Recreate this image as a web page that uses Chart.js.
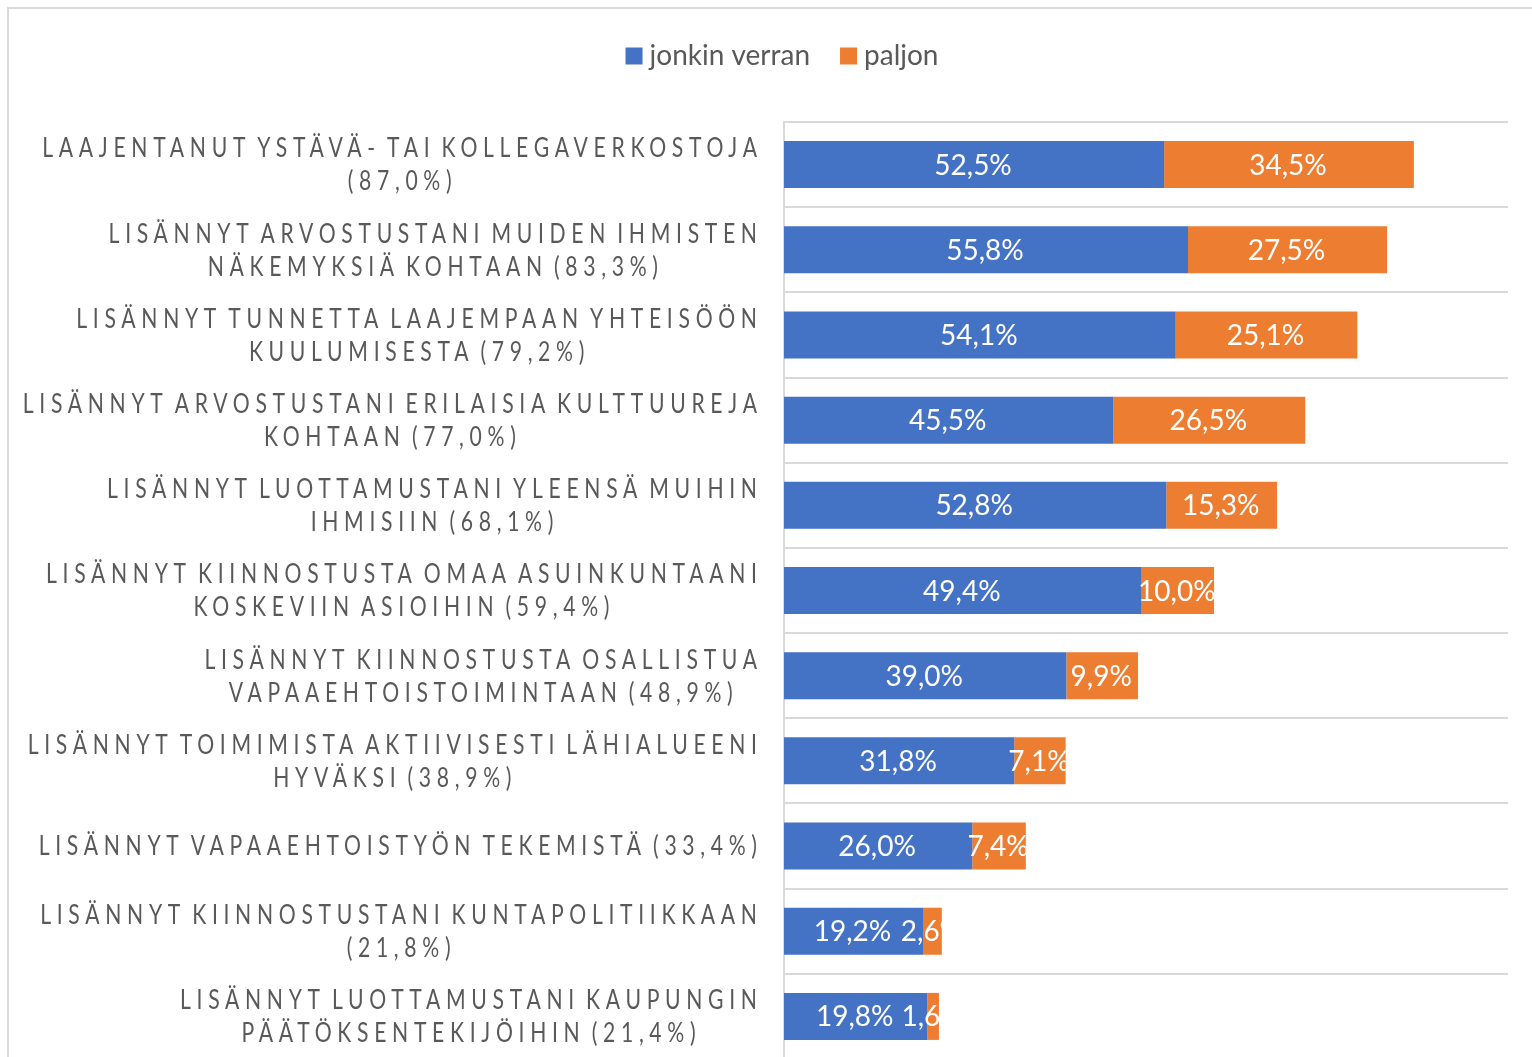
<!DOCTYPE html>
<html><head><meta charset="utf-8">
<script src="https://cdn.jsdelivr.net/npm/chart.js@4.4.0/dist/chart.umd.min.js"></script>
<style>html,body{margin:0;padding:0;background:#fff;overflow:hidden}#wrap{position:relative;width:1532px;height:1066px}</style>
</head><body><div id="wrap"><canvas id="c"></canvas></div>
<script>
const categories = [
 ["LAAJENTANUT YSTÄVÄ- TAI KOLLEGAVERKOSTOJA", "(87,0%)"],
 ["LISÄNNYT ARVOSTUSTANI MUIDEN IHMISTEN", "NÄKEMYKSIÄ KOHTAAN (83,3%)"],
 ["LISÄNNYT TUNNETTA LAAJEMPAAN YHTEISÖÖN", "KUULUMISESTA (79,2%)"],
 ["LISÄNNYT ARVOSTUSTANI ERILAISIA KULTTUUREJA", "KOHTAAN (77,0%)"],
 ["LISÄNNYT LUOTTAMUSTANI YLEENSÄ MUIHIN", "IHMISIIN (68,1%)"],
 ["LISÄNNYT KIINNOSTUSTA OMAA ASUINKUNTAANI", "KOSKEVIIN ASIOIHIN (59,4%)"],
 ["LISÄNNYT KIINNOSTUSTA OSALLISTUA", "VAPAAEHTOISTOIMINTAAN (48,9%)"],
 ["LISÄNNYT TOIMIMISTA AKTIIVISESTI LÄHIALUEENI", "HYVÄKSI (38,9%)"],
 ["LISÄNNYT VAPAAEHTOISTYÖN TEKEMISTÄ (33,4%)"],
 ["LISÄNNYT KIINNOSTUSTANI KUNTAPOLITIIKKAAN", "(21,8%)"],
 ["LISÄNNYT LUOTTAMUSTANI KAUPUNGIN", "PÄÄTÖKSENTEKIJÖIHIN (21,4%)"]
];
const seriesNames = ["jonkin verran", "paljon"];
const jonkinVerran = [52.5, 55.8, 54.1, 45.5, 52.8, 49.4, 39.0, 31.8, 26.0, 19.2, 19.8];
const paljon = [34.5, 27.5, 25.1, 26.5, 15.3, 10.0, 9.9, 7.1, 7.4, 2.6, 1.6];
const xMin = 0, xMax = 100;
const seriesColors = ['#4472C4', '#ED7D31'];

function fmt(v){ return v.toFixed(1).replace('.', ',') + '%'; }

const TEXT_GRAY = '#595959';
const CAT_FONT = '26px Lato';
const CAT_LS = 7;
const CAT_WS = -6;
const CAT_SX = 0.813;
const CAT_RIGHT = 757;
const CAT_LINE_H = 33;

const framePlugin = {
  id: 'frame',
  beforeDraw(chart){
    const c = chart.ctx; c.save();
    c.fillStyle = '#fff'; c.fillRect(0, 0, chart.width, chart.height);
    c.strokeStyle = '#d9d9d9'; c.lineWidth = 2;
    c.beginPath(); c.moveTo(8, chart.height + 5); c.lineTo(8, 8); c.lineTo(chart.width + 5, 8); c.stroke();
    c.restore();
  }
};

const legendPlugin = {
  id: 'customLegend',
  afterDraw(chart){
    const c = chart.ctx; c.save();
    c.font = '28px Lato'; c.textBaseline = 'middle';
    const box = 17, gapBT = 7, gapItems = 30;
    const items = chart.data.datasets.map(d => ({label: d.label, color: d.backgroundColor, w: c.measureText(d.label).width}));
    let total = 0;
    items.forEach((it, i) => { total += box + gapBT + it.w + (i < items.length - 1 ? gapItems : 0); });
    let x = 782 - total / 2;
    const cy = 56;
    items.forEach(it => {
      c.fillStyle = it.color; c.fillRect(x, cy - box / 2, box, box);
      x += box + gapBT;
      c.fillStyle = TEXT_GRAY; c.fillText(it.label, x, cy);
      x += it.w + gapItems;
    });
    c.restore();
  }
};

const catLabelPlugin = {
  id: 'catLabels',
  afterDraw(chart){
    const c = chart.ctx; const ys = chart.scales.y;
    c.save();
    c.font = CAT_FONT; c.fillStyle = TEXT_GRAY; c.textBaseline = 'middle'; c.textAlign = 'center';
    try { c.letterSpacing = CAT_LS + 'px'; c.wordSpacing = CAT_WS + 'px'; } catch(e) {}
    chart.data.labels.forEach((lab, i) => {
      const lines = Array.isArray(lab) ? lab : [lab];
      const widths = lines.map(l => (c.measureText(l).width - CAT_LS) * CAT_SX);
      const bw = Math.max(...widths);
      const cx = CAT_RIGHT - bw / 2;
      const yc = ys.getPixelForTick(i) + 1;
      const y0 = yc - (lines.length - 1) * CAT_LINE_H / 2;
      lines.forEach((l, k) => {
        c.save();
        c.translate(cx, y0 + k * CAT_LINE_H);
        c.scale(CAT_SX, 1);
        c.fillText(l, CAT_LS / 2, 0);
        c.restore();
      });
    });
    c.restore();
  }
};

const dataLabelPlugin = {
  id: 'barLabels',
  afterDatasetsDraw(chart){
    const c = chart.ctx; c.save();
    c.font = '28px Lato'; c.fillStyle = '#ffffff'; c.textAlign = 'center'; c.textBaseline = 'middle';
    chart.data.datasets.forEach((ds, di) => {
      const meta = chart.getDatasetMeta(di);
      meta.data.forEach((el, i) => {
        const p = el.getProps(['x', 'y', 'base', 'height'], true);
        const left = Math.min(p.base, p.x), right = Math.max(p.base, p.x);
        c.save();
        c.beginPath(); c.rect(0, p.y - p.height / 2, right, p.height); c.clip();
        c.fillText(fmt(ds.data[i]), (left + right) / 2 - 1, p.y + 1);
        c.restore();
      });
    });
    c.restore();
  }
};

new Chart(document.getElementById('c'), {
  type: 'bar',
  data: {
    labels: categories,
    datasets: [
      {label: seriesNames[0], data: jonkinVerran, backgroundColor: seriesColors[0]},
      {label: seriesNames[1], data: paljon, backgroundColor: seriesColors[1]}
    ]
  },
  options: {
    indexAxis: 'y',
    responsive: true,
    maintainAspectRatio: false,
    animation: false,
    events: [],
    layout: {padding: {top: 122, bottom: 7, left: 0, right: 24}},
    datasets: {bar: {categoryPercentage: 1, barPercentage: 0.552}},
    plugins: {legend: {display: false}, tooltip: {enabled: false}, title: {display: false}},
    scales: {
      x: {stacked: true, min: xMin, max: xMax, display: false},
      y: {
        stacked: true,
        ticks: {display: false},
        grid: {display: true, color: '#d9d9d9', lineWidth: 2, drawTicks: false, offset: true},
        border: {display: true, color: '#d9d9d9', width: 2},
        afterFit(s){ s.width = 784; }
      }
    }
  },
  plugins: [framePlugin, dataLabelPlugin, catLabelPlugin, legendPlugin]
});
</script>
</body></html>
